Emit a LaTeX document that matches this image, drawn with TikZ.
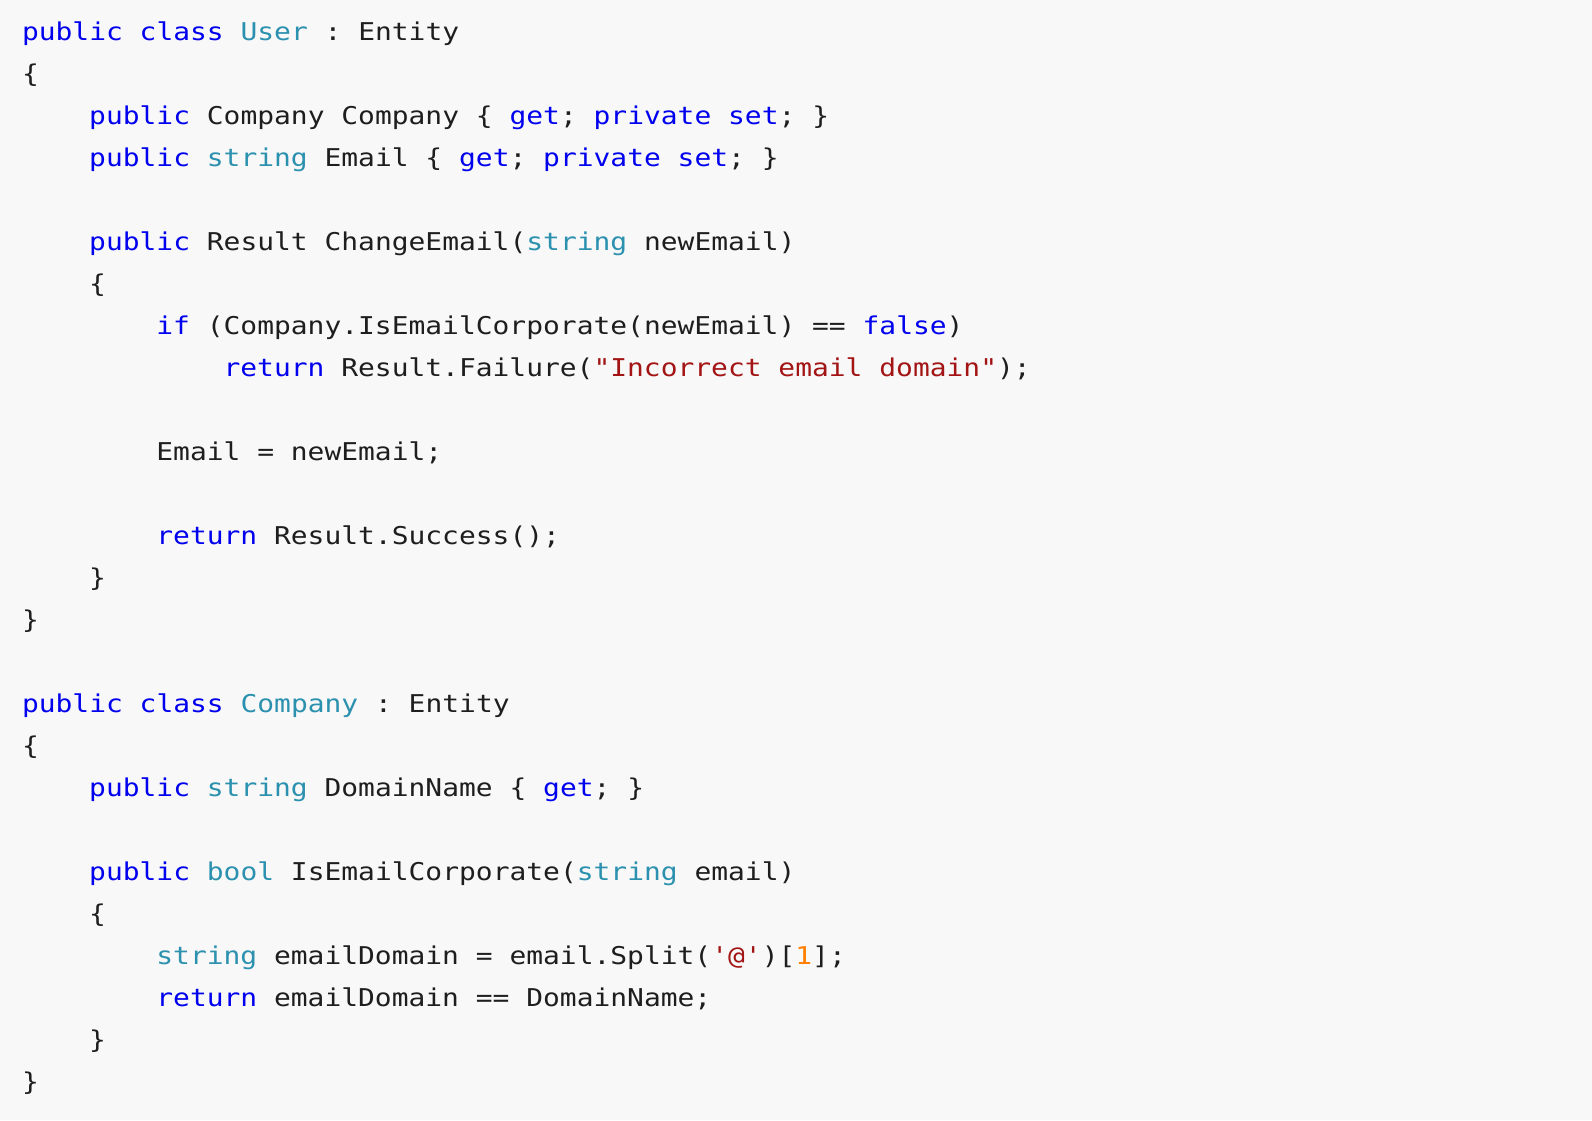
\documentclass[tikz,border=0pt]{standalone}
\usepackage{fontspec}
\newfontfamily\codefont[FakeStretch=1.14,Ligatures=ResetAll]{DejaVu Sans Mono}
\definecolor{bgc}{RGB}{248,248,248}
\definecolor{kwc}{RGB}{0,0,238}
\definecolor{tyc}{RGB}{43,145,175}
\definecolor{stc}{RGB}{163,21,21}
\definecolor{nmc}{RGB}{255,128,0}
\definecolor{txc}{RGB}{30,30,30}
\newcommand{\kw}[1]{\textcolor{kwc}{#1}}
\newcommand{\ty}[1]{\textcolor{tyc}{#1}}
\newcommand{\stq}[1]{\textcolor{stc}{#1}}
\newcommand{\nm}[1]{\textcolor{nmc}{#1}}
\frenchspacing
\begin{document}
\begin{tikzpicture}[x=1pt,y=-1pt,
  codeline/.style={anchor=base west,inner sep=0pt,outer sep=0pt,text=txc,font=\codefont\fontsize{24.5}{30}\selectfont\frenchspacing}]
\fill[bgc] (0,0) rectangle (1592,1120);
\useasboundingbox (0,0) rectangle (1592,1120);
\def\lh{42}
\def\cw{16.8}
\node[codeline] (l0) at (22+0*\cw,40+0*\lh) {\kw{public} \kw{class} \ty{User} : Entity};
\node[codeline] (l1) at (22+0*\cw,40+1*\lh) {\{};
\node[codeline] (l2) at (22+4*\cw,40+2*\lh) {\kw{public} Company Company \{ \kw{get}; \kw{private} \kw{set}; \}};
\node[codeline] (l3) at (22+4*\cw,40+3*\lh) {\kw{public} \ty{string} Email \{ \kw{get}; \kw{private} \kw{set}; \}};
\node[codeline] (l5) at (22+4*\cw,40+5*\lh) {\kw{public} Result ChangeEmail(\ty{string} newEmail)};
\node[codeline] (l6) at (22+4*\cw,40+6*\lh) {\{};
\node[codeline] (l7) at (22+8*\cw,40+7*\lh) {\kw{if} (Company.IsEmailCorporate(newEmail) == \kw{false})};
\node[codeline] (l8) at (22+12*\cw,40+8*\lh) {\kw{return} Result.Failure(\stq{{\char34}Incorrect email domain{\char34}});};
\node[codeline] (l10) at (22+8*\cw,40+10*\lh) {Email = newEmail;};
\node[codeline] (l12) at (22+8*\cw,40+12*\lh) {\kw{return} Result.Success();};
\node[codeline] (l13) at (22+4*\cw,40+13*\lh) {\}};
\node[codeline] (l14) at (22+0*\cw,40+14*\lh) {\}};
\node[codeline] (l16) at (22+0*\cw,40+16*\lh) {\kw{public} \kw{class} \ty{Company} : Entity};
\node[codeline] (l17) at (22+0*\cw,40+17*\lh) {\{};
\node[codeline] (l18) at (22+4*\cw,40+18*\lh) {\kw{public} \ty{string} DomainName \{ \kw{get}; \}};
\node[codeline] (l20) at (22+4*\cw,40+20*\lh) {\kw{public} \ty{bool} IsEmailCorporate(\ty{string} email)};
\node[codeline] (l21) at (22+4*\cw,40+21*\lh) {\{};
\node[codeline] (l22) at (22+8*\cw,40+22*\lh) {\ty{string} emailDomain = email.Split(\stq{{\char39}@{\char39}})[\nm{1}];};
\node[codeline] (l23) at (22+8*\cw,40+23*\lh) {\kw{return} emailDomain == DomainName;};
\node[codeline] (l24) at (22+4*\cw,40+24*\lh) {\}};
\node[codeline] (l25) at (22+0*\cw,40+25*\lh) {\}};
\end{tikzpicture}
\end{document}
